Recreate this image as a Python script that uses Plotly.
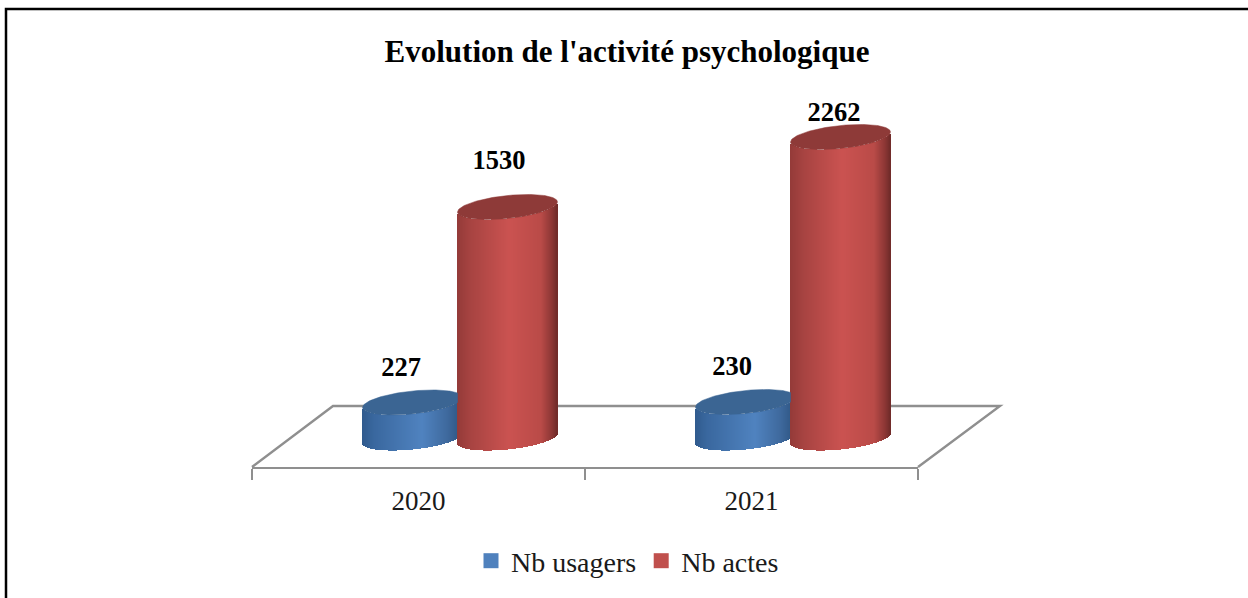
import numpy as np
import plotly.graph_objects as go

# ---- data ----
years = ["2020", "2021"]
nb_usagers = [227, 230]
nb_actes = [1530, 2262]
series_names = ["Nb usagers", "Nb actes"]
title_text = "Evolution de l'activité psychologique"

# ---- the reference's 3D perspective foreshortens tall columns: value -> drawn height ----
persp_values = [0, 230, 1530, 2262]
persp_heights = [0, 36, 231, 301]

def project(v):
    return float(np.interp(v, persp_values, persp_heights))

# ---- layout constants (axis units are pixels) ----
W, H = 1248, 598
BASE = 438            # pixel row of the column bases
def Y(px):            # pixel row -> height above base
    return BASE - px

centers = [418, 751]
offsets = [-5.5, 89.5]
A, B, S = 50, 11.5, 5  # half width, half minor height, tilt of the ellipses

blue_stops = ([0, 0.12, 0.6, 0.85, 1], ["#305b8e", "#3a689f", "#5083c0", "#3f6a9e", "#2d5480"])
red_stops = ([0, 0.14, 0.52, 0.84, 0.95, 1],
             ["#943b39", "#a84442", "#cb5351", "#ba4b48", "#8c3735", "#702b29"])
top_colors = ["#3b6593", "#8e3a38"]
legend_colors = ["#4f81bd", "#c0504d"]
FONT = "Liberation Serif"
GREY = "#8f8f8f"

def hex2rgb(h):
    return np.array([int(h[i:i + 2], 16) for i in (1, 3, 5)], float)

def shade(f, stops):
    pos, cols = stops
    rgb = [np.interp(f, pos, [hex2rgb(c)[k] for c in cols]) for k in range(3)]
    return "rgb(%d,%d,%d)" % tuple(rgb)

def cylinder(cx, value, stops, top_color, name, clip_right=None):
    h = project(value)
    xs = np.arange(cx - A, cx + A) + 0.5
    c = (xs - cx) / A
    s = np.sqrt(np.clip(1 - c ** 2, 0, 1))
    bottom = S * c - B * s            # lower arc of the base ellipse
    top = h + S * c - B * s           # lower arc of the top ellipse
    body = go.Bar(x=xs, y=top - bottom, base=bottom, width=1.25, showlegend=False,
                  marker=dict(color=[shade((x - cx + A) / (2 * A), stops) for x in xs],
                              line=dict(width=0)),
                  name=name, hoverinfo="skip")
    t = np.linspace(0, 2 * np.pi, 181)
    cap_x = cx + A * np.cos(t)
    if clip_right is not None:        # the neighbouring column hides the cap's right end
        cap_x = np.minimum(cap_x, clip_right)
    cap = go.Scatter(x=cap_x, y=h + S * np.cos(t) + B * np.sin(t),
                     mode="lines", fill="toself", fillcolor=top_color,
                     line=dict(width=0.5, color=top_color), showlegend=False, hoverinfo="skip")
    return [body, cap]

fig = go.Figure()

for i in range(len(years)):
    red_left = centers[i] + offsets[1] - A
    for tr in cylinder(centers[i] + offsets[0], nb_usagers[i], blue_stops, top_colors[0],
                       series_names[0], clip_right=red_left):
        fig.add_trace(tr)
    for tr in cylinder(centers[i] + offsets[1], nb_actes[i], red_stops, top_colors[1], series_names[1]):
        fig.add_trace(tr)

# data labels
label_dx = [[-11.5, -13.5], [-8.5, -6.5]]
label_dy = [[33, 34], [45, 23]]
for j, vals in enumerate([nb_usagers, nb_actes]):
    fig.add_trace(go.Scatter(
        x=[centers[i] + offsets[j] + label_dx[j][i] for i in range(2)],
        y=[project(vals[i]) + label_dy[j][i] for i in range(2)],
        text=[str(v) for v in vals], mode="text", textposition="middle center",
        textfont=dict(family=FONT, size=26.5, color="black", weight="bold"),
        showlegend=False, hoverinfo="skip"))

# legend entries
for name, col in zip(series_names, legend_colors):
    fig.add_trace(go.Scatter(x=[None], y=[None], mode="markers", name=name,
                             marker=dict(symbol="square", size=15, color=col)))

# category axis holder
fig.add_trace(go.Scatter(x=years, y=[0, 0], xaxis="x2", yaxis="y2", mode="markers",
                         marker=dict(opacity=0), showlegend=False, hoverinfo="skip"))

# floor, behind the columns (its front edge is the category axis)
floor_path = "M 252 %f L 333 %f L 1000 %f L 918 %f" % (Y(467), Y(406), Y(406), Y(467))

fig.update_layout(
    width=W, height=H, margin=dict(l=0, r=0, t=0, b=0),
    paper_bgcolor="white", plot_bgcolor="rgba(0,0,0,0)",
    barmode="overlay", bargap=0,
    font=dict(family=FONT, color="#1a1a1a", size=27),
    title=dict(text="<b>" + title_text + "</b>", x=627 / W, xanchor="center",
               y=1 - 51 / H, yanchor="middle", font=dict(family=FONT, size=31, color="black")),
    xaxis=dict(range=[0, W], domain=[0, 1], visible=False, fixedrange=True),
    yaxis=dict(range=[BASE - H, BASE], domain=[0, 1], visible=False, fixedrange=True),
    xaxis2=dict(type="category", anchor="y2", domain=[252 / W, 918 / W], range=[-0.5, 1.5],
                tickson="boundaries", ticks="outside", ticklen=11, tickwidth=2, tickcolor=GREY,
                ticklabelstandoff=8,
                showline=True, linecolor=GREY, linewidth=2.4, showgrid=False, zeroline=False,
                tickfont=dict(family=FONT, size=27, color="#1a1a1a"), fixedrange=True),
    yaxis2=dict(anchor="x2", domain=[1 - 467 / H, 1], visible=False, range=[0, 1], fixedrange=True),
    legend=dict(orientation="h", x=471 / W, xanchor="left", y=1 - 561 / H, yanchor="middle",
                font=dict(family=FONT, size=28, color="#1a1a1a"), bgcolor="rgba(0,0,0,0)",
                itemwidth=30, itemclick=False, itemdoubleclick=False),
    shapes=[
        dict(type="path", xref="x", yref="y", layer="below", path=floor_path,
             line=dict(color=GREY, width=2.4)),
        dict(type="path", xref="paper", yref="paper", layer="above",
             path="M %f 0 L %f %f L 1 %f" % (6 / W, 6 / W, 1 - 9 / H, 1 - 9 / H),
             line=dict(color="black", width=2.5)),
    ],
    showlegend=True,
)

fig.write_html("out.html", config=dict(displayModeBar=False),
               post_script="document.body.style.margin='0';document.body.style.overflow='hidden';")
